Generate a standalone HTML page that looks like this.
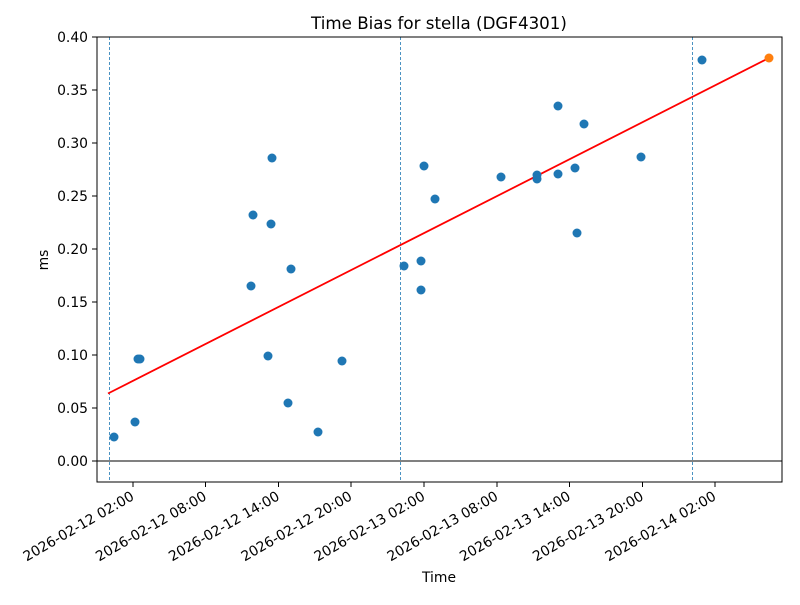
<!DOCTYPE html><html><head><style>body{margin:0;background:#fff}svg{font-family:"DejaVu Sans","Liberation Sans",sans-serif}</style></head><body>
<svg width="800" height="600" xmlns="http://www.w3.org/2000/svg">
<rect width="800" height="600" fill="#fff"/>
<text x="439" y="29" font-size="16.7" text-anchor="middle">Time Bias for stella (DGF4301)</text>
<line x1="97" y1="461" x2="782" y2="461" stroke="#000" stroke-width="1"/>
<g stroke="#1f77b4" stroke-width="0.8" stroke-dasharray="3,2">
<line x1="109.5" y1="37" x2="109.5" y2="482"/><line x1="400.5" y1="37" x2="400.5" y2="482"/><line x1="692.5" y1="37" x2="692.5" y2="482"/></g>
<line x1="108" y1="393.5" x2="769" y2="58" stroke="red" stroke-width="1.8"/>
<g fill="#1f77b4">
<circle cx="114" cy="437" r="4.5"/><circle cx="135" cy="422" r="4.5"/><circle cx="138" cy="359" r="4.5"/><circle cx="140" cy="359" r="4.5"/>
<circle cx="251" cy="286" r="4.5"/><circle cx="253" cy="215" r="4.5"/><circle cx="268" cy="356" r="4.5"/><circle cx="271" cy="224" r="4.5"/><circle cx="272" cy="158" r="4.5"/>
<circle cx="288" cy="403" r="4.5"/><circle cx="291" cy="269" r="4.5"/><circle cx="318" cy="432" r="4.5"/><circle cx="342" cy="361" r="4.5"/>
<circle cx="404" cy="266" r="4.5"/><circle cx="421" cy="261" r="4.5"/><circle cx="421" cy="290" r="4.5"/><circle cx="424" cy="166" r="4.5"/><circle cx="435" cy="199" r="4.5"/>
<circle cx="501" cy="177" r="4.5"/><circle cx="537" cy="175" r="4.5"/><circle cx="537" cy="179" r="4.5"/><circle cx="558" cy="106" r="4.5"/><circle cx="558" cy="174" r="4.5"/>
<circle cx="575" cy="168" r="4.5"/><circle cx="577" cy="233" r="4.5"/><circle cx="584" cy="124" r="4.5"/><circle cx="641" cy="157" r="4.5"/><circle cx="702" cy="60" r="4.5"/></g>
<circle cx="769" cy="58" r="4.5" fill="#ff7f0e"/>
<rect x="97" y="37" width="685" height="445" fill="none" stroke="#000" stroke-width="1"/>
<g stroke="#000" stroke-width="1">
<line x1="92" y1="37" x2="97" y2="37"/><line x1="92" y1="90" x2="97" y2="90"/><line x1="92" y1="143" x2="97" y2="143"/><line x1="92" y1="196" x2="97" y2="196"/><line x1="92" y1="249" x2="97" y2="249"/><line x1="92" y1="302" x2="97" y2="302"/><line x1="92" y1="355" x2="97" y2="355"/><line x1="92" y1="408" x2="97" y2="408"/><line x1="92" y1="461" x2="97" y2="461"/>
<line x1="133" y1="482" x2="133" y2="487"/><line x1="205.5" y1="482" x2="205.5" y2="487"/><line x1="278.5" y1="482" x2="278.5" y2="487"/><line x1="351" y1="482" x2="351" y2="487"/><line x1="424" y1="482" x2="424" y2="487"/><line x1="497" y1="482" x2="497" y2="487"/><line x1="569.5" y1="482" x2="569.5" y2="487"/><line x1="642.5" y1="482" x2="642.5" y2="487"/><line x1="715" y1="482" x2="715" y2="487"/>
</g>
<g font-size="13.9" text-anchor="end">
<text x="88" y="42">0.40</text><text x="88" y="95">0.35</text><text x="88" y="148">0.30</text><text x="88" y="201">0.25</text><text x="88" y="254">0.20</text><text x="88" y="307">0.15</text><text x="88" y="360">0.10</text><text x="88" y="413">0.05</text><text x="88" y="466">0.00</text>
<text transform="translate(135,499) rotate(-30)">2026-02-12 02:00</text>
<text transform="translate(207.5,499) rotate(-30)">2026-02-12 08:00</text>
<text transform="translate(280.5,499) rotate(-30)">2026-02-12 14:00</text>
<text transform="translate(353,499) rotate(-30)">2026-02-12 20:00</text>
<text transform="translate(426,499) rotate(-30)">2026-02-13 02:00</text>
<text transform="translate(499,499) rotate(-30)">2026-02-13 08:00</text>
<text transform="translate(571.5,499) rotate(-30)">2026-02-13 14:00</text>
<text transform="translate(644.5,499) rotate(-30)">2026-02-13 20:00</text>
<text transform="translate(717,499) rotate(-30)">2026-02-14 02:00</text>
</g>
<text x="439" y="582" font-size="13.9" text-anchor="middle">Time</text>
<text transform="translate(48,260) rotate(-90)" font-size="13.9" text-anchor="middle">ms</text>
</svg></body></html>
